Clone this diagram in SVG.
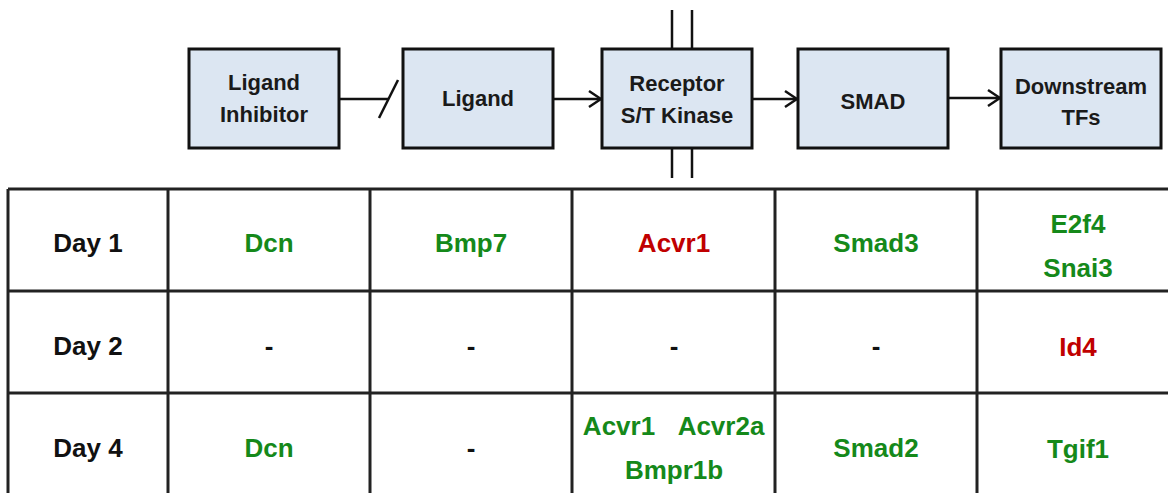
<svg xmlns="http://www.w3.org/2000/svg" width="1168" height="493" viewBox="0 0 1168 493">
<defs>
<style>
.box{fill:#dce6f2;stroke:#111;stroke-width:3}
.bt{font-family:"Liberation Sans",Arial,sans-serif;font-weight:bold;font-size:22px;fill:#1a1a1a;text-anchor:middle}
.conn{stroke:#111;stroke-width:2.5;fill:none}
.grid{stroke:#222;stroke-width:3;fill:none}
.tt{font-family:"Liberation Sans",Arial,sans-serif;font-weight:bold;font-size:26px;text-anchor:middle}
.k{fill:#111}
.g{fill:#15891a}
.r{fill:#c00000}
</style>
<marker id="arr" viewBox="0 0 14 20" refX="13" refY="10" markerWidth="14" markerHeight="20" markerUnits="userSpaceOnUse" orient="auto">
<path d="M1,2 L13,10 L1,18" fill="none" stroke="#111" stroke-width="2.5"/>
</marker>
</defs>
<rect width="1168" height="493" fill="#fff"/>

<g id="node-ligand-inhibitor">
<rect class="box" x="189" y="49" width="150" height="99"/>
<text class="bt" x="264" y="90">Ligand</text>
<text class="bt" x="264" y="122">Inhibitor</text>
</g>
<g id="node-ligand">
<rect class="box" x="403" y="49" width="150" height="99"/>
<text class="bt" x="478" y="106">Ligand</text>
</g>
<g id="node-receptor">
<line class="conn" x1="672" y1="10" x2="672" y2="49"/>
<line class="conn" x1="692" y1="10" x2="692" y2="49"/>
<line class="conn" x1="672" y1="148" x2="672" y2="178"/>
<line class="conn" x1="692" y1="148" x2="692" y2="178"/>
<rect class="box" x="602" y="49" width="150" height="99"/>
<text class="bt" x="677" y="91">Receptor</text>
<text class="bt" x="677" y="123">S/T Kinase</text>
</g>
<g id="node-smad">
<rect class="box" x="798" y="49" width="150" height="99"/>
<text class="bt" x="873" y="109">SMAD</text>
</g>
<g id="node-downstream">
<rect class="box" x="1001" y="49" width="160" height="99"/>
<text class="bt" x="1081" y="94">Downstream</text>
<text class="bt" x="1081" y="125">TFs</text>
</g>

<g id="connectors">
<line class="conn" x1="340" y1="99" x2="389" y2="99"/>
<line class="conn" x1="379" y1="118" x2="398" y2="80"/>
<line class="conn" x1="554" y1="99" x2="601" y2="99" marker-end="url(#arr)"/>
<line class="conn" x1="753" y1="99" x2="797" y2="99" marker-end="url(#arr)"/>
<line class="conn" x1="949" y1="98" x2="1000" y2="98" marker-end="url(#arr)"/>
</g>

<g id="table">
<line class="grid" x1="8" y1="189" x2="1168" y2="189"/>
<line class="grid" x1="8" y1="291" x2="1168" y2="291"/>
<line class="grid" x1="8" y1="393" x2="1168" y2="393"/>
<line class="grid" x1="8" y1="189" x2="8" y2="493"/>
<line class="grid" x1="168" y1="189" x2="168" y2="493"/>
<line class="grid" x1="370" y1="189" x2="370" y2="493"/>
<line class="grid" x1="572" y1="189" x2="572" y2="493"/>
<line class="grid" x1="775" y1="189" x2="775" y2="493"/>
<line class="grid" x1="977" y1="189" x2="977" y2="493"/>
</g>

<g id="row-day1">
<text class="tt k" x="88" y="252">Day 1</text>
<text class="tt g" x="269" y="252">Dcn</text>
<text class="tt g" x="471" y="252">Bmp7</text>
<text class="tt r" x="674" y="252">Acvr1</text>
<text class="tt g" x="876" y="252">Smad3</text>
<text class="tt g" x="1078" y="233">E2f4</text>
<text class="tt g" x="1078" y="277">Snai3</text>
</g>
<g id="row-day2">
<text class="tt k" x="88" y="355">Day 2</text>
<text class="tt k" x="269" y="355">-</text>
<text class="tt k" x="471" y="355">-</text>
<text class="tt k" x="674" y="355">-</text>
<text class="tt k" x="876" y="355">-</text>
<text class="tt r" x="1078" y="356">Id4</text>
</g>
<g id="row-day4">
<text class="tt k" x="88" y="457">Day 4</text>
<text class="tt g" x="269" y="457">Dcn</text>
<text class="tt k" x="471" y="457">-</text>
<text class="tt g" x="619" y="435">Acvr1</text>
<text class="tt g" x="721" y="435">Acvr2a</text>
<text class="tt g" x="674" y="479">Bmpr1b</text>
<text class="tt g" x="876" y="457">Smad2</text>
<text class="tt g" x="1078" y="458">Tgif1</text>
</g>
</svg>
